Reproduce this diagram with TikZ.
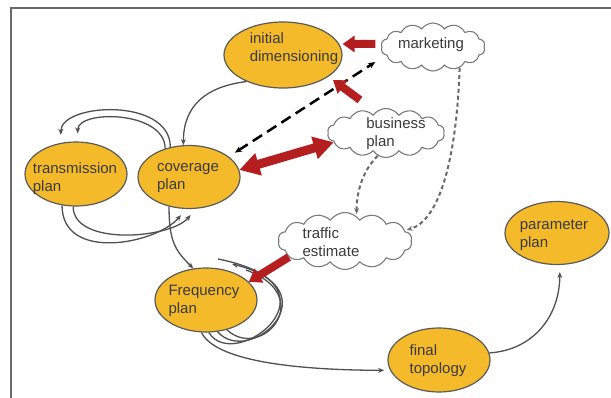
\documentclass[tikz,border=0pt]{standalone}
\usepackage{fontspec}
\setmainfont{Liberation Sans}
\usetikzlibrary{shapes.geometric,shapes.symbols,arrows.meta,calc}
\definecolor{gold}{HTML}{F4BA2A}
\definecolor{ellgray}{HTML}{5A5A5A}
\definecolor{cldgray}{HTML}{7A7A7A}
\definecolor{txtc}{HTML}{3A3A3A}
\definecolor{lngray}{HTML}{505050}
\definecolor{dashgray}{HTML}{6A6A6A}
\definecolor{redc}{HTML}{B41E1E}
\definecolor{framec}{HTML}{6A6A6A}
\begin{document}
\begin{tikzpicture}[x=1pt,y=-1pt,
  ell/.style={ellipse, draw=ellgray, line width=1.2pt, fill=gold, inner sep=0pt},
  cld/.style={cloud, cloud puffs=14, cloud puff arc=110, cloud ignores aspect, draw=cldgray, line width=1.1pt, fill=white, inner sep=0pt},
  lbl/.style={align=left, text=txtc, font=\fontsize{15}{18}\selectfont, inner sep=0pt},
  conn/.style={draw=lngray, line width=1.3pt, -{Stealth[length=6pt,width=5pt]}},
  plainconn/.style={draw=lngray, line width=1.3pt},
  dsh/.style={draw=dashgray, line width=2pt, dash pattern=on 4pt off 3pt, -{Stealth[length=6pt,width=5pt]}},
  blkdash/.style={draw=black, line width=2.5pt, dash pattern=on 11pt off 6pt, {Stealth[length=7pt,width=6pt]}-{Stealth[length=7pt,width=6pt]}},
  redarr/.style={draw=redc, line width=8pt, -{Triangle[length=12pt,width=16pt]}},
  redarrtwo/.style={draw=redc, line width=9pt, {Triangle[length=20pt,width=22pt]}-{Triangle[length=20pt,width=22pt]}}
]
\useasboundingbox (0,0) rectangle (611,398);
\fill[white] (0,0) rectangle (611,398);
\draw[framec, line width=2pt] (11,398) -- (11,8) -- (611,8);

% nodes
\node[ell, minimum width=118pt, minimum height=66pt] (init) at (283,55) {};
\node[lbl] (initT) at (294,49) {initial\\dimensioning};
\node[cld, minimum width=104pt, minimum height=48pt] (mkt) at (433,47) {};
\node[lbl] (mktT) at (431,45) {marketing};
\node[cld, minimum width=117pt, minimum height=49pt] (biz) at (386,133) {};
\node[lbl] (bizT) at (396,134) {business\\plan};
\node[ell, minimum width=102pt, minimum height=64pt] (trans) at (76,174) {};
\node[lbl] (transT) at (75,179) {transmission\\plan};
\node[ell, minimum width=102pt, minimum height=63pt] (cov) at (189,177) {};
\node[lbl] (covT) at (188,178) {coverage\\plan};
\node[cld, minimum width=134pt, minimum height=57pt] (traffic) at (345,241) {};
\node[lbl] (trafT) at (331,242) {traffic\\estimate};
\node[ell, minimum width=102pt, minimum height=64pt] (freq) at (206,300) {};
\node[lbl] (freqT) at (204,301) {Frequency\\plan};
\node[ell, minimum width=102pt, minimum height=64pt] (final) at (439,360) {};
\node[lbl] (finalT) at (438,361) {final\\topology};
\node[ell, minimum width=104pt, minimum height=63pt] (param) at (557,233) {};
\node[lbl] (paramT) at (554,235) {parameter\\plan};

% grey connectors
\draw[conn] (init.216) .. controls +(-40,5) and +(0,-40) .. (cov.100);
\draw[conn, shorten >=8pt] (cov.122) .. controls +(0,-50) and +(0,-40) .. (trans.116);
\draw[conn, shorten >=8pt] (cov.130) .. controls +(0,-38) and +(0,-32) .. (trans.87);
\draw[conn, shorten >=8pt] (trans.246) .. controls +(0,57) and +(-30,35) .. (cov.265);
\draw[conn, shorten >=8pt] (trans.265) .. controls +(0,40) and +(-25,30) .. (cov.282);
\draw[conn] (cov.236) .. controls +(0,35) and +(-18,-18) .. (freq.112);
% loops on Frequency plan
\draw[plainconn] (freq.275) .. controls (235,375) and (350,285) .. ($(freq)+(12,-41)$);
\draw[conn] (freq.290) .. controls (250,368) and (335,290) .. ($(freq)+(26,-36)$);
\draw[plainconn] (freq.305) .. controls (262,362) and (318,296) .. ($(freq)+(40,-30)$);
\draw[conn, shorten >=6pt] (freq.262) .. controls (215,360) and (290,370) .. (final.192);
\draw[conn, shorten >=7pt] (final.8) .. controls +(45,-3) and +(0,50) .. (param.275);
% dashed grey
\draw[dsh, shorten >=2pt] (mkt.322) .. controls +(-3,90) and +(35,-10) .. (traffic.10);
\draw[dsh, shorten >=2pt] (biz.250) .. controls +(-15,15) and +(0,-25) .. (traffic.65);
% black dashed double arrow
\coordinate (covD) at ($(cov.27)+(6,-4)$);
\coordinate (mktD) at ($(mkt.west)+(-6,15)$);
\draw[blkdash] (covD) -- (mktD);
% red block arrows
\draw[redarr] ($(mkt.west)+(-6,-3)$) -- ($(init.east)+(0,-11)$);
\draw[redarr] ($(init)+(77,45)$) -- ($(init)+(50,25)$);
\draw[redarrtwo] (cov.8) -- (biz.190);
\draw[redarr] (traffic.196) -- (freq.23);
\end{tikzpicture}
\end{document}
